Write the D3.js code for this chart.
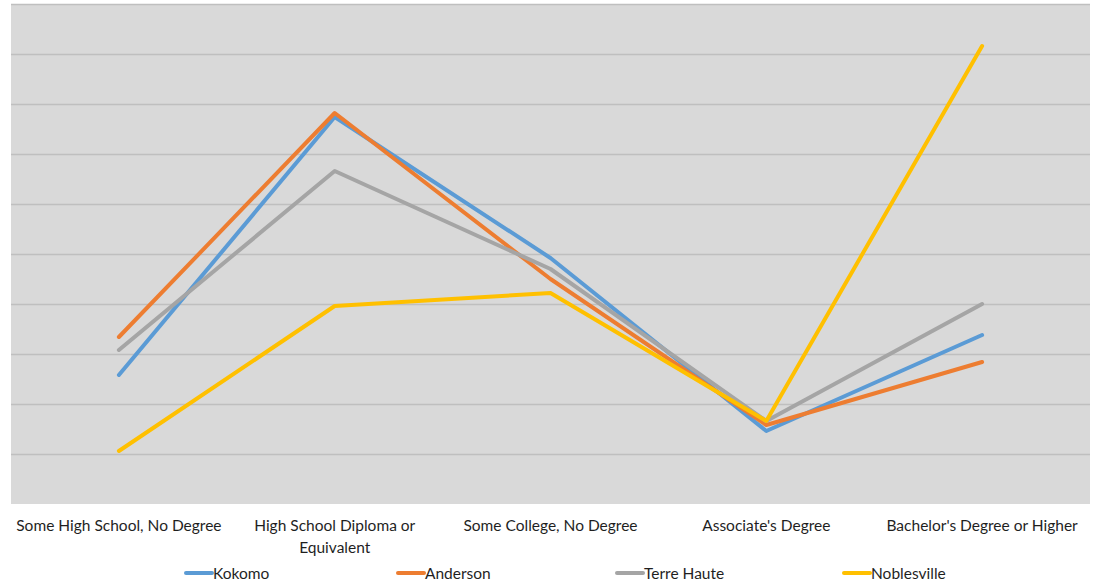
<!DOCTYPE html>
<html>
<head>
<meta charset="utf-8">
<script src="https://cdn.jsdelivr.net/npm/d3@7"></script>
<style>
  html, body { margin: 0; padding: 0; background: #ffffff; }
  svg { display: block; }
  text { font-family: Lato, "Open Sans", sans-serif; fill: #1f1f1f; }
</style>
</head>
<body>
<svg id="chart" width="1096" height="586"></svg>
<script>
// Education attainment categories (x axis)
const categories = [
  "Some High School, No Degree",
  "High School Diploma or Equivalent",
  "Some College, No Degree",
  "Associate's Degree",
  "Bachelor's Degree or Higher"
];

// Share of population (%) per city
const kokomo      = [12.9, 38.7, 24.6, 7.3, 16.9];
const anderson    = [16.7, 39.1, 22.5, 7.9, 14.2];
const terreHaute  = [15.4, 33.3, 23.5, 8.3, 20.0];
const noblesville = [5.3, 19.8, 21.1, 8.3, 45.8];

const seriesNames  = ["Kokomo", "Anderson", "Terre Haute", "Noblesville"];
const seriesColors = ["#5b9bd5", "#ed7d31", "#a5a5a5", "#ffc000"];
const seriesValues = [kokomo, anderson, terreHaute, noblesville];

// Gridline values
const yTicks = [0, 5, 10, 15, 20, 25, 30, 35, 40, 45, 50];

const svg = d3.select("#chart");
const plot = { left: 11, right: 1090, top: 4, bottom: 504 };

const x = d3.scaleBand()
  .domain(categories)
  .range([plot.left, plot.right])
  .paddingInner(0).paddingOuter(0);

const y = d3.scaleLinear()
  .domain([0, 50])
  .range([plot.bottom, plot.top]);

// Plot background
svg.append("rect")
  .attr("x", plot.left).attr("y", plot.top)
  .attr("width", plot.right - plot.left)
  .attr("height", plot.bottom - plot.top)
  .attr("fill", "#d9d9d9");

// Horizontal gridlines
const grid = d3.axisLeft(y)
  .tickValues(yTicks.slice(1))
  .tickSize(-(plot.right - plot.left))
  .tickFormat("");
svg.append("g")
  .attr("transform", `translate(${plot.left},0)`)
  .call(grid)
  .call(g => g.select(".domain").remove())
  .call(g => g.selectAll(".tick line").attr("stroke", "#bfbfbf").attr("stroke-width", 1.5));

// Category axis labels (wrapped)
const xAxis = d3.axisBottom(x).tickSize(0).tickFormat("");
const xg = svg.append("g")
  .attr("transform", `translate(0,${plot.bottom})`)
  .call(xAxis);
xg.select(".domain").remove();

function wrapLines(label) {
  if (label === "High School Diploma or Equivalent") return ["High School Diploma or", "Equivalent"];
  return [label];
}
xg.selectAll(".tick").each(function(d) {
  const t = d3.select(this).append("text")
    .attr("text-anchor", "middle")
    .attr("font-size", 15.5)
    .attr("y", 27);
  wrapLines(d).forEach((line, i) => {
    t.append("tspan").attr("x", 0).attr("dy", i === 0 ? 0 : 21.5).text(line);
  });
});

// Series lines
const line = d3.line()
  .x((d, i) => x(categories[i]) + x.bandwidth() / 2)
  .y(d => y(d));

svg.append("g").selectAll("path")
  .data(seriesValues)
  .join("path")
  .attr("d", line)
  .attr("fill", "none")
  .attr("stroke", (d, i) => seriesColors[i])
  .attr("stroke-width", 4)
  .attr("stroke-linejoin", "round")
  .attr("stroke-linecap", "round");

// Legend
const legendX = [186, 398, 617, 844];
const legend = svg.append("g").attr("transform", "translate(0,573)");
const items = legend.selectAll("g")
  .data(seriesNames)
  .join("g")
  .attr("transform", (d, i) => `translate(${legendX[i]},0)`);
items.append("line")
  .attr("x1", 0).attr("x2", 26)
  .attr("stroke", (d, i) => seriesColors[i])
  .attr("stroke-width", 4)
  .attr("stroke-linecap", "round");
items.append("text")
  .attr("x", 27).attr("y", 5.5)
  .attr("font-size", 15.5)
  .text(d => d);
</script>
</body>
</html>
